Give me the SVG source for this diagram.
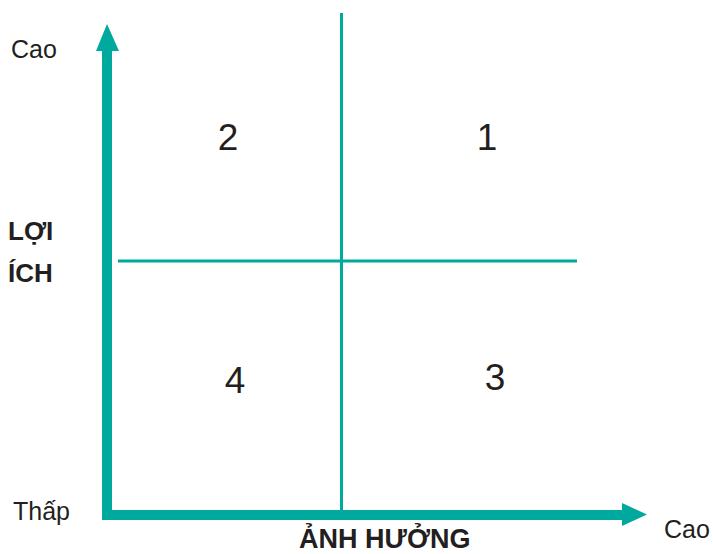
<svg xmlns="http://www.w3.org/2000/svg" width="713" height="554" viewBox="0 0 713 554">
<style>
.t{font-family:"Liberation Sans",Arial,sans-serif;fill:#231f20}
.s{font-size:25px}
.b{font-size:26px;font-weight:bold}
.bx{font-size:27px;font-weight:bold}
.n{font-size:37px}
.ax{fill:#00a99d}
.ln{stroke:#00a99d;stroke-width:3;fill:none}
</style>
<g id="connectors">
<line class="ln" x1="341.5" y1="13" x2="341.5" y2="510"/>
<line class="ln" x1="118" y1="261" x2="577" y2="261"/>
<polygon id="axes" class="ax" points="102,520 102,51 96,51 107,24 119,51 112,51 112,510 622,510 622,503 647,514.5 622,526 622,520"/>
</g>
<g id="labels">
<text class="t s" x="11" y="58">Cao</text>
<text class="t s" x="13" y="520">Thấp</text>
<text class="t s" x="664" y="538">Cao</text>
<text class="t bx" x="299" y="548">ẢNH HƯỞNG</text>
<text class="t b" x="8" y="240">LỢI</text>
<text class="t b" x="8" y="282">ÍCH</text>
</g>
<g id="q2"><text class="t n" x="228" y="150" text-anchor="middle">2</text></g>
<g id="q1"><text class="t n" x="487" y="150" text-anchor="middle">1</text></g>
<g id="q4"><text class="t n" x="235" y="393" text-anchor="middle">4</text></g>
<g id="q3"><text class="t n" x="495" y="390" text-anchor="middle">3</text></g>
</svg>
